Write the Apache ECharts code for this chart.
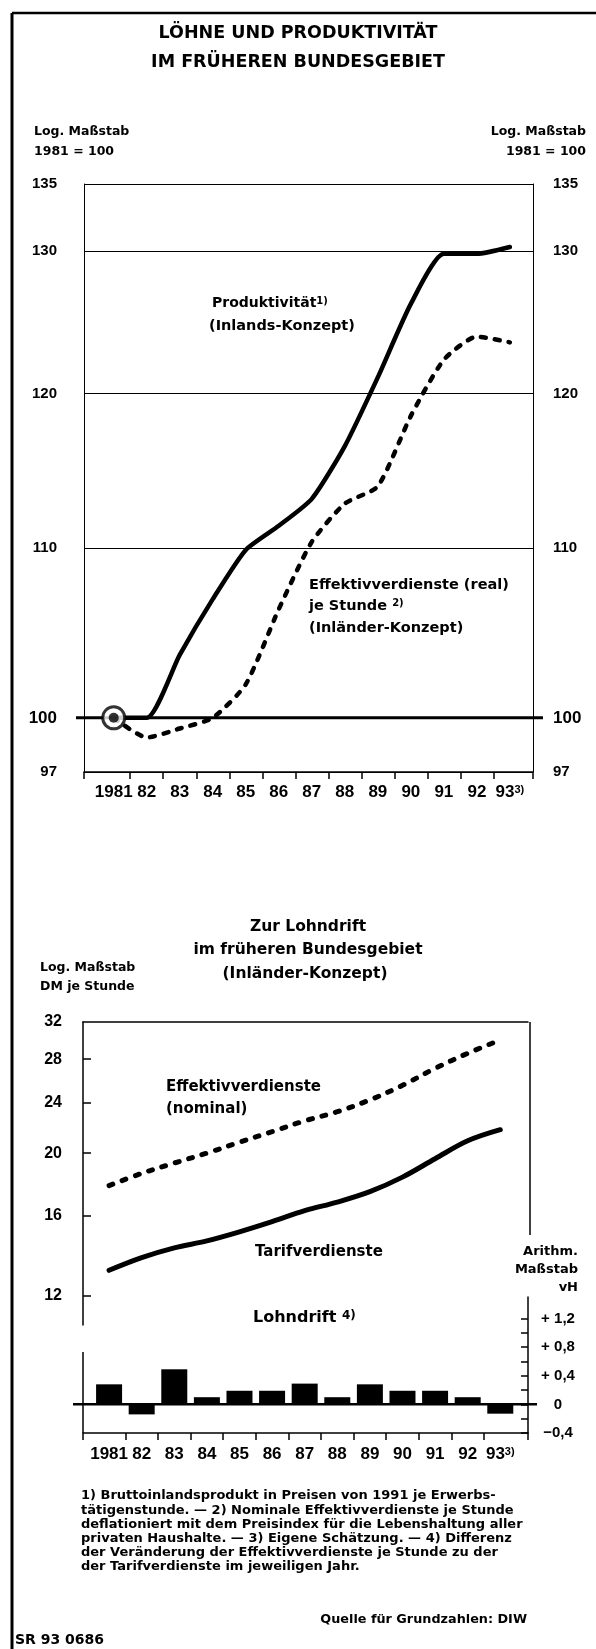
<!DOCTYPE html>
<html>
<head>
<meta charset="utf-8">
<title>Löhne und Produktivität</title>
<script src="https://cdn.jsdelivr.net/npm/echarts@6/dist/echarts.min.js"></script>
<style>
  html, body { margin: 0; padding: 0; background: #fff; }
  #chart { width: 596px; height: 1649px; }
</style>
</head>
<body>
<div id="chart"></div>
<script>
// Jahre (x-Achse beider Diagramme)
var years = [1981, 1982, 1983, 1984, 1985, 1986, 1987, 1988, 1989, 1990, 1991, 1992, 1993];

// oberes Diagramm, log. Maßstab, 1981 = 100
var produktivitaet = [100, 100, 103.6, 106.9, 109.9, 111.4, 113.1, 116.5, 121.1, 126.2, 129.8, 129.8, 130.3];
var effektivReal = [100, 98.9, 99.4, 100.0, 101.9, 106.3, 110.4, 112.8, 113.9, 118.5, 122.3, 123.9, 123.5];
var topTicks = [97, 100, 110, 120, 130, 135];

// unteres Diagramm, log. Maßstab, DM je Stunde
var effektivNominal = [17.8, 18.6, 19.3, 20.0, 20.8, 21.6, 22.45, 23.2, 24.2, 25.5, 27.1, 28.6, 30.0];
var tarifverdienste = [13.14, 13.75, 14.24, 14.6, 15.08, 15.64, 16.27, 16.78, 17.42, 18.35, 19.6, 20.9, 21.75];
var dmTicks = [12, 16, 20, 24, 28];
var dmLabels = [12, 16, 20, 24, 28, 32];

// Lohndrift, arithm. Maßstab, vH
var lohndrift = [0.28, -0.14, 0.49, 0.1, 0.19, 0.19, 0.29, 0.1, 0.28, 0.19, 0.19, 0.1, -0.13];
var driftTicks = [-0.4, -0.2, 0, 0.2, 0.4, 0.6, 0.8, 1.0, 1.2];
var driftLabels = [-0.4, 0, 0.4, 0.8, 1.2];

var footnotes = [
  '1) Bruttoinlandsprodukt in Preisen von 1991 je Erwerbs-',
  'tätigenstunde. — 2) Nominale Effektivverdienste je Stunde',
  'deflationiert mit dem Preisindex für die Lebenshaltung aller',
  'privaten Haushalte. — 3) Eigene Schätzung. — 4) Differenz',
  'der Veränderung der Effektivverdienste je Stunde zu der',
  'der Tarifverdienste im jeweiligen Jahr.'
];

var FONT = '"Liberation Sans", Arial, sans-serif';   // Achsenziffern
var TFONT = '"DejaVu Sans", sans-serif';              // Beschriftungen
var INK = '#000';

function pairs(xs, ys) {
  return xs.map(function (x, i) { return [x, ys[i]]; });
}

// Striche zwischen den Jahren, plus Achsenenden
function yearTicks(min, max) {
  var t = [min];
  years.slice(0, -1).forEach(function (y) { t.push(y + 0.5); });
  t.push(max);
  return t;
}

function yearFmt(v) {
  var y = Math.round(v);
  if (y === 1981) return '1981';
  if (y === 1993) return '{n|93}{s|3)}';
  return String(y).slice(2);
}

var yearRich = {
  n: { fontSize: 17, fontWeight: 'bold', fontFamily: FONT, color: INK },
  s: { fontSize: 11, fontWeight: 'bold', fontFamily: FONT, color: INK, verticalAlign: 'top' }
};

function txt(x, y, text, size, align) {
  return {
    type: 'text', x: x, y: y, silent: true, z: 50,
    style: {
      text: text, fill: INK, fontSize: size, fontWeight: 'bold', fontFamily: TFONT,
      align: align || 'left', verticalAlign: 'middle',
      textAlign: align || 'left', textVerticalAlign: 'middle',
      rich: {
        s: { fontSize: Math.round(size * 0.72), fontWeight: 'bold', fontFamily: TFONT, fill: INK, verticalAlign: 'top' }
      }
    }
  };
}

function rule(x1, y1, x2, y2, w, z) {
  return {
    type: 'line', silent: true, z: z == null ? 40 : z,
    shape: { x1: x1, y1: y1, x2: x2, y2: y2 },
    style: { stroke: INK, lineWidth: w }
  };
}

var axisText = { color: INK, fontWeight: 'bold', fontFamily: FONT };

var graphics = [
  rule(12, 13, 596, 13, 2.5),
  rule(12, 13, 12, 1649, 3),
  rule(530, 1022, 530, 1235, 1.5),
  rule(83, 1352, 83, 1433, 1.5),

  txt(298, 33, 'LÖHNE UND PRODUKTIVITÄT', 17.5, 'center'),
  txt(298, 62, 'IM FRÜHEREN BUNDESGEBIET', 17.5, 'center'),
  txt(34, 132, 'Log. Maßstab', 12.5),
  txt(34, 152, '1981 = 100', 12.5),
  txt(586, 132, 'Log. Maßstab', 12.5, 'right'),
  txt(586, 152, '1981 = 100', 12.5, 'right'),
  txt(212, 303, 'Produktivität{s|1)}', 14),
  txt(209, 326, '(Inlands-Konzept)', 14.5),
  txt(309, 585, 'Effektivverdienste (real)', 14.5),
  txt(309, 606, 'je Stunde {s|2)}', 14.5),
  txt(309, 628, '(Inländer-Konzept)', 14.5),

  txt(308, 927, 'Zur Lohndrift', 15.5, 'center'),
  txt(308, 950, 'im früheren Bundesgebiet', 15.5, 'center'),
  txt(305, 974, '(Inländer-Konzept)', 15.5, 'center'),
  txt(40, 968, 'Log. Maßstab', 12.5),
  txt(40, 987, 'DM je Stunde', 12.5),
  txt(166, 1087, 'Effektivverdienste', 15),
  txt(166, 1109, '(nominal)', 15),
  txt(255, 1252, 'Tarifverdienste', 15),
  txt(578, 1252, 'Arithm.', 13, 'right'),
  txt(578, 1270, 'Maßstab', 13, 'right'),
  txt(578, 1288, 'vH', 13, 'right'),
  txt(253, 1318, 'Lohndrift {s|4)}', 16),

  txt(527, 1620, 'Quelle für Grundzahlen: DIW', 12.8, 'right'),
  txt(15, 1640, 'SR 93 0686', 14)
];
footnotes.forEach(function (line, i) {
  graphics.push(txt(81, 1496 + i * 14.2, line, 13));
});

var chart = echarts.init(document.getElementById('chart'));

chart.setOption({
  animation: false,
  backgroundColor: '#fff',
  grid: [
    { left: 84, right: 63, top: 184, height: 588 },
    { left: 83, right: 68, top: 1022, height: 303 },
    { left: 83, right: 68, top: 1297, height: 136 }
  ],
  xAxis: [
    {
      type: 'value', gridIndex: 0, min: 1980.1, max: 1993.7, position: 'bottom',
      axisLine: { onZero: false, lineStyle: { color: INK, width: 1.5 } },
      axisTick: { customValues: yearTicks(1980.1, 1993.7), length: 7, lineStyle: { color: INK, width: 1.5 } },
      axisLabel: Object.assign({ customValues: years, formatter: yearFmt, margin: 12, fontSize: 17, rich: yearRich }, axisText),
      splitLine: { show: false }
    },
    {
      type: 'value', gridIndex: 1, min: 1980.2, max: 1993.85, position: 'top',
      axisLine: { onZero: false, lineStyle: { color: INK, width: 1.5 } },
      axisTick: { show: false }, axisLabel: { show: false }, splitLine: { show: false }
    },
    {
      type: 'value', gridIndex: 2, min: 1980.2, max: 1993.85, position: 'bottom',
      axisLine: { onZero: false, lineStyle: { color: INK, width: 1.5 } },
      axisTick: { customValues: yearTicks(1980.2, 1993.85), length: 7, lineStyle: { color: INK, width: 1.5 } },
      axisLabel: Object.assign({ customValues: years, formatter: yearFmt, margin: 13, fontSize: 17, rich: yearRich }, axisText),
      splitLine: { show: false }
    }
  ],
  yAxis: [
    {
      type: 'log', logBase: 10, gridIndex: 0, min: 97, max: 135, position: 'left',
      axisLine: { show: true, lineStyle: { color: INK, width: 1 } },
      axisTick: { show: false, customValues: topTicks },
      axisLabel: Object.assign({
        customValues: topTicks, margin: 27, fontSize: 15,
        formatter: function (v) { var r = Math.round(v); return r === 100 ? '{b|100}' : String(r); },
        rich: { b: { fontSize: 17, fontWeight: 'bold', fontFamily: FONT, color: INK } }
      }, axisText),
      splitLine: { show: true, lineStyle: { color: INK, width: 1 } }
    },
    {
      type: 'log', logBase: 10, gridIndex: 0, min: 97, max: 135, position: 'right',
      axisLine: { show: true, lineStyle: { color: INK, width: 1 } },
      axisTick: { show: false, customValues: topTicks },
      axisLabel: Object.assign({
        customValues: topTicks, margin: 20, fontSize: 15,
        formatter: function (v) { var r = Math.round(v); return r === 100 ? '{b|100}' : String(r); },
        rich: { b: { fontSize: 17, fontWeight: 'bold', fontFamily: FONT, color: INK } }
      }, axisText),
      splitLine: { show: false }
    },
    {
      type: 'log', logBase: 10, gridIndex: 1, min: 10.8, max: 32, position: 'left',
      axisLine: { show: true, lineStyle: { color: INK, width: 1.5 } },
      axisTick: { customValues: dmTicks, inside: true, length: 8, lineStyle: { color: INK, width: 1.5 } },
      axisLabel: Object.assign({ customValues: dmLabels, margin: 21, fontSize: 16 }, axisText),
      splitLine: { show: false }
    },
    {
      type: 'value', gridIndex: 2, min: -0.4, max: 1.5, position: 'right',
      axisLine: { show: true, onZero: false, lineStyle: { color: INK, width: 1.5 } },
      axisTick: { customValues: driftTicks, inside: true, length: 7, lineStyle: { color: INK, width: 1.5 } },
      axisLabel: Object.assign({
        customValues: driftLabels, margin: 30, fontSize: 15, align: 'center',
        formatter: function (v) {
          if (Math.abs(v) < 1e-9) return '0';
          var s = Math.abs(v).toFixed(1).replace('.', ',');
          return v > 0 ? '+ ' + s : '−' + s;
        }
      }, axisText),
      splitLine: { show: false }
    }
  ],
  series: [
    {
      type: 'line', name: 'Produktivität', xAxisIndex: 0, yAxisIndex: 0,
      data: pairs(years, produktivitaet), symbol: 'none', smooth: 0.2, z: 3,
      lineStyle: { color: INK, width: 4.5, cap: 'round', join: 'round' },
      emphasis: { disabled: true }
    },
    {
      type: 'line', name: 'Effektivverdienste (real)', xAxisIndex: 0, yAxisIndex: 0,
      data: pairs(years, effektivReal), symbol: 'none', smooth: 0.2, z: 3,
      lineStyle: { color: INK, width: 4.5, type: [5, 9], cap: 'round' },
      emphasis: { disabled: true }
    },
    {
      type: 'scatter', xAxisIndex: 0, yAxisIndex: 0, z: 5,
      data: [[years[0], produktivitaet[0]]], symbol: 'circle', symbolSize: 22,
      itemStyle: { color: '#fff', borderColor: INK, borderWidth: 3 },
      emphasis: { disabled: true }
    },
    {
      type: 'scatter', xAxisIndex: 0, yAxisIndex: 0, z: 6,
      data: [[years[0], produktivitaet[0]]], symbol: 'circle', symbolSize: 10,
      itemStyle: { color: INK }, emphasis: { disabled: true }
    },
    {
      type: 'line', name: 'Effektivverdienste (nominal)', xAxisIndex: 1, yAxisIndex: 2,
      data: pairs(years, effektivNominal), symbol: 'none', smooth: 0.35,
      lineStyle: { color: INK, width: 5, type: [4, 10], cap: 'round' },
      emphasis: { disabled: true }
    },
    {
      type: 'line', name: 'Tarifverdienste', xAxisIndex: 1, yAxisIndex: 2,
      data: pairs(years, tarifverdienste), symbol: 'none', smooth: 0.35,
      lineStyle: { color: INK, width: 5, cap: 'round' },
      emphasis: { disabled: true }
    },
    {
      type: 'bar', name: 'Lohndrift', xAxisIndex: 2, yAxisIndex: 3,
      data: pairs(years, lohndrift), barWidth: 26,
      itemStyle: { color: INK },
      emphasis: { disabled: true }
    }
  ]
});

// Basislinien (100 bzw. 0) über die Achsen hinaus verlängert, Lage aus den Achsen;
// unter den Kurven und dem Kreis gezeichnet
var y100 = chart.convertToPixel({ yAxisIndex: 0 }, produktivitaet[0]);
var y0 = chart.convertToPixel({ yAxisIndex: 3 }, 0);
graphics.push(rule(76, y100, 543, y100, 3, 1));
graphics.push(rule(73, y0, 537, y0, 2.5, 1));

chart.setOption({ graphic: graphics });
</script>
</body>
</html>
